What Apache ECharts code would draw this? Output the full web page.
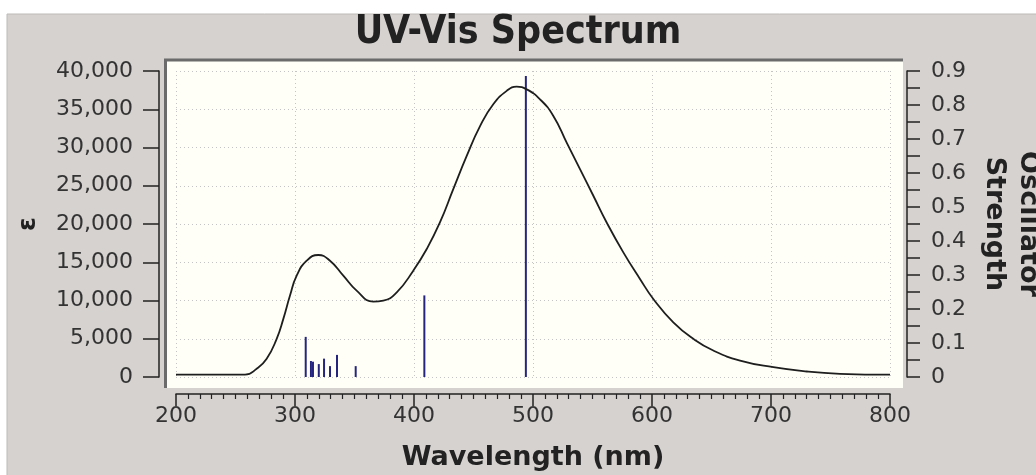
<!DOCTYPE html>
<html>
<head>
<meta charset="utf-8">
<script src="https://cdn.jsdelivr.net/npm/echarts@6/dist/echarts.min.js"></script>
<style>
  html, body { margin: 0; padding: 0; background: #ffffff; overflow: hidden; }
  #chart { width: 1036px; height: 475px; }
</style>
</head>
<body>
<div id="chart"></div>
<script>
// Broadened absorption envelope: wavelength (nm) and molar absorptivity ε
const wavelengths = [200, 230, 250, 258, 267.8, 276.2, 284.6, 290.2, 295.8, 301.4, 309.8, 319.6, 329.4, 340.6,
  351.8, 365.8, 374.2, 385.5, 399.4, 410.7, 421.8, 433, 444.3, 455.5, 466.6, 477.9, 486.3, 494.7,
  505.9, 517.1, 528.3, 539.5, 550.7, 561.9, 575.9, 589.9, 601.1, 617.9, 634.7, 651.5, 674, 702,
  730, 758, 800];
const epsilon = [300, 300, 300, 300, 1070, 2380, 4990, 7600, 10640, 13250, 15200, 15950, 15200, 13250,
  11290, 9850, 9980, 11070, 13900, 16730, 20200, 24560, 28900, 32800, 35650, 37400, 37950, 37600,
  36300, 34130, 30640, 27170, 23690, 20200, 16290, 12820, 10200, 7150, 4990, 3460, 2150, 1280,
  720, 420, 300];

// Individual excitations: wavelength (nm) and oscillator strength
const stickWavelengths = [309, 313.4, 315.1, 320, 324.4, 329.4, 335.3, 351, 408.7, 494];
const stickStrengths = [0.118, 0.047, 0.045, 0.038, 0.054, 0.032, 0.065, 0.032, 0.240, 0.885];

// Axis ranges and tick steps
const xRange = [200, 800, 100];
const epsRange = [0, 40000, 5000];
const oscRange = [0, 0.9, 0.1];

const titleText = 'UV-Vis Spectrum';
const xName = 'Wavelength (nm)';
const epsName = 'ε';
const oscName = 'Oscillator\nStrength';

const curve = wavelengths.map((w, i) => [w, epsilon[i]]);
const sticks = stickWavelengths.map((w, i) => [w, stickStrengths[i]]);

const FONT = '"DejaVu Sans", sans-serif';
const TITLE_FONT = '"DejaVu Sans Condensed", "DejaVu Sans", sans-serif';
const INK = '#333333';

const chart = echarts.init(document.getElementById('chart'), null, { renderer: 'canvas' });
chart.setOption({
  backgroundColor: '#ffffff',
  animation: false,
  graphic: [
    // window panel
    { type: 'rect', z: -10, silent: true, shape: { x: 7, y: 14, width: 1036, height: 470 },
      style: { fill: '#d5d2cf', stroke: '#bdbab7', lineWidth: 1 } },
    // plot frame
    { type: 'rect', z: -9, silent: true, shape: { x: 165, y: 59, width: 738, height: 329 },
      style: { fill: '#fffff7' } },
    { type: 'polyline', z: -8, silent: true, shape: { points: [[165.5, 388], [165.5, 60], [903, 60]] },
      style: { stroke: '#6b6b6b', lineWidth: 3, fill: null } }
  ],
  title: {
    text: titleText,
    left: 'center',
    top: 8,
    textStyle: { fontFamily: TITLE_FONT, fontSize: 39, fontWeight: 'bold', color: '#222222' }
  },
  grid: { left: 176, right: 146, top: 71, bottom: 98, containLabel: false, outerBoundsMode: 'none' },
  xAxis: {
    type: 'value',
    min: xRange[0], max: xRange[1], interval: xRange[2],
    offset: 17,
    name: xName,
    nameLocation: 'middle',
    nameGap: 50,
    nameTextStyle: { fontFamily: FONT, fontSize: 27, fontWeight: 'bold', color: '#222222' },
    axisLine: { show: true, onZero: false, lineStyle: { color: '#222222', width: 1.5 } },
    axisTick: { show: true, length: 12, lineStyle: { color: '#222222', width: 1.5 } },
    minorTick: { show: true, splitNumber: 10, length: 5, lineStyle: { color: '#222222', width: 1.2 } },
    axisLabel: { fontFamily: FONT, fontSize: 22, color: INK, margin: 11 },
    splitLine: { show: true, lineStyle: { color: '#c4c4c4', type: [1, 3], width: 1 } }
  },
  yAxis: [
    {
      type: 'value',
      position: 'left',
      min: epsRange[0], max: epsRange[1], interval: epsRange[2],
      offset: 17,
      name: epsName,
      nameLocation: 'middle',
      nameGap: 118,
      nameTextStyle: { fontFamily: FONT, fontSize: 25, fontWeight: 'bold', color: '#222222' },
      axisLine: { show: true, lineStyle: { color: '#222222', width: 1.5 } },
      axisTick: { show: true, length: 16, lineStyle: { color: '#222222', width: 1.5 } },
      axisLabel: { fontFamily: FONT, fontSize: 22, color: INK, margin: 26,
        formatter: v => v.toLocaleString('en-US') },
      splitLine: { show: true, lineStyle: { color: '#c4c4c4', type: [1, 3], width: 1 } }
    },
    {
      type: 'value',
      position: 'right',
      min: oscRange[0], max: oscRange[1], interval: oscRange[2],
      offset: 17,
      name: oscName,
      nameLocation: 'middle',
      nameRotate: -90,
      nameGap: 68,
      nameTextStyle: { fontFamily: FONT, fontSize: 27, fontWeight: 'bold', color: '#222222', lineHeight: 34 },
      axisLine: { show: true, lineStyle: { color: '#222222', width: 1.5 } },
      axisTick: { show: true, length: 13, lineStyle: { color: '#222222', width: 1.5 } },
      minorTick: { show: true, splitNumber: 2, length: 13, lineStyle: { color: '#222222', width: 1.5 } },
      axisLabel: { fontFamily: FONT, fontSize: 22, color: INK, margin: 24,
        formatter: v => (Math.round(v * 10) / 10).toString() },
      splitLine: { show: false }
    }
  ],
  series: [
    {
      name: 'ε',
      type: 'line',
      yAxisIndex: 0,
      data: curve,
      smooth: 0.5,
      showSymbol: false,
      lineStyle: { color: '#1e1e1e', width: 1.8 },
      z: 3
    },
    {
      name: 'Oscillator Strength',
      type: 'bar',
      yAxisIndex: 1,
      data: sticks,
      barWidth: 2,
      itemStyle: { color: '#25257f' },
      z: 2
    }
  ]
});
</script>
</body>
</html>
